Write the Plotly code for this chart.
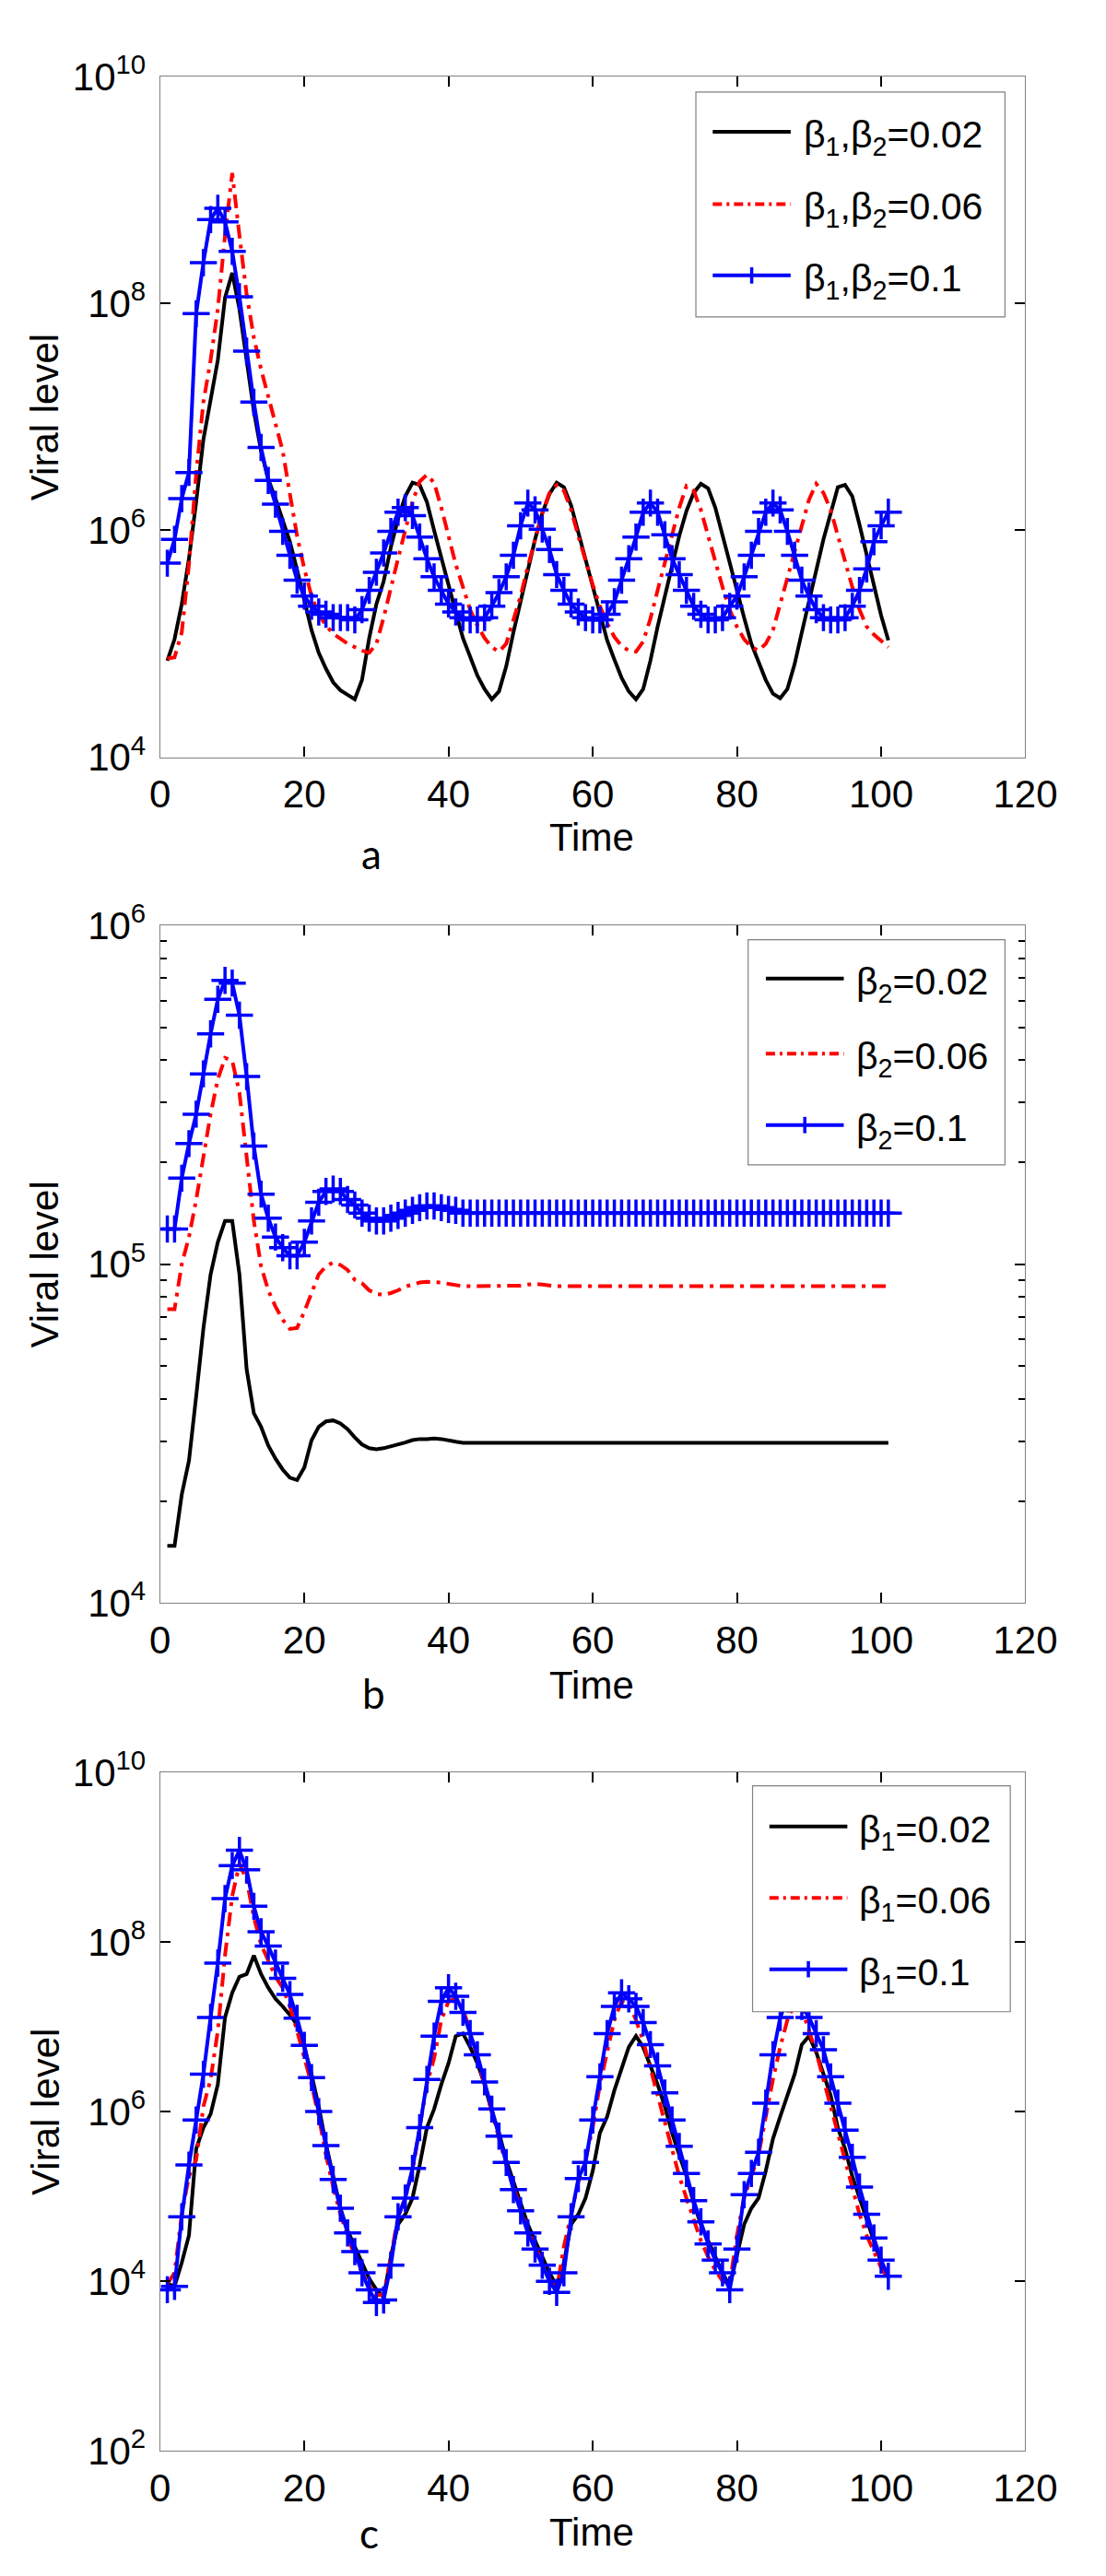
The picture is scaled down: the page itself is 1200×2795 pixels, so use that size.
import plotly.graph_objects as go

W, H = 1200, 2795

# ---------------- data (log10 of viral level) ----------------
t = list(range(1, 102))

# panel a : beta1, beta2 = 0.02 / 0.06 / 0.1
a_black_log10 = [4.85, 5.04, 5.35, 5.75, 6.25, 6.8, 7.15, 7.5, 8.05, 8.27,
                 7.95, 7.5, 7.05, 6.7, 6.45, 6.28, 6.1, 5.9, 5.65, 5.4,
                 5.12, 4.92, 4.78, 4.66, 4.59, 4.55, 4.51, 4.68, 5.05, 5.35,
                 5.55, 5.85, 6.1, 6.3, 6.42, 6.4, 6.25, 6.0, 5.75, 5.5,
                 5.28, 5.05, 4.88, 4.72, 4.6, 4.51, 4.58, 4.8, 5.1, 5.38,
                 5.65, 5.92, 6.15, 6.32, 6.42, 6.38, 6.22, 5.98, 5.72, 5.48,
                 5.25, 5.03, 4.86, 4.7, 4.58, 4.51, 4.6, 4.85, 5.15, 5.42,
                 5.7, 5.95, 6.17, 6.33, 6.41, 6.37, 6.2, 5.95, 5.7, 5.46,
                 5.23, 5.0, 4.83, 4.68, 4.56, 4.52, 4.6, 4.82, 5.1, 5.38,
                 5.65, 5.92, 6.15, 6.38, 6.4, 6.3, 6.05, 5.78, 5.5, 5.25,
                 5.03]
a_red_log10 = [4.87, 4.88, 5.1, 5.7, 6.5, 7.13, 7.5, 7.95, 8.6, 9.15,
               8.6, 8.08, 7.7, 7.42, 7.18, 6.95, 6.7, 6.32, 5.95, 5.66,
               5.42, 5.26, 5.16, 5.09, 5.04, 5.0, 4.97, 4.94, 4.92, 5.0,
               5.23, 5.5, 5.75, 6.0, 6.25, 6.43, 6.49, 6.42, 6.2, 5.95,
               5.7, 5.5, 5.3, 5.16, 5.05, 4.97, 4.93, 5.0, 5.2, 5.42,
               5.68, 5.92, 6.15, 6.33, 6.4, 6.35, 6.18, 5.95, 5.72, 5.52,
               5.33, 5.18, 5.06, 4.98, 4.94, 4.93, 5.02, 5.22, 5.47, 5.72,
               5.95, 6.2, 6.39, 6.35, 6.18, 5.95, 5.72, 5.5, 5.3, 5.15,
               5.04, 4.97, 4.94, 5.0, 5.12, 5.35, 5.55, 5.8, 6.04, 6.27,
               6.41, 6.33, 6.18, 5.95, 5.72, 5.5, 5.3, 5.15, 5.08, 5.02,
               4.97]
a_blue_log10 = [5.71, 5.92, 6.28, 6.51, 7.91, 8.36, 8.74, 8.84, 8.72, 8.46,
                8.06, 7.58, 7.13, 6.73, 6.44, 6.23, 5.99, 5.78, 5.56, 5.42,
                5.33, 5.28, 5.26, 5.23, 5.23, 5.23, 5.21, 5.30, 5.47, 5.63,
                5.80, 5.99, 6.16, 6.2, 6.13, 5.94, 5.75, 5.59, 5.47, 5.35,
                5.28, 5.23, 5.21, 5.21, 5.23, 5.33, 5.45, 5.59, 5.78, 6.04,
                6.24, 6.18, 6.01, 5.83, 5.61, 5.47, 5.35, 5.28, 5.23, 5.21,
                5.21, 5.26, 5.37, 5.56, 5.75, 5.94, 6.16, 6.24, 6.16, 5.96,
                5.75, 5.61, 5.47, 5.33, 5.26, 5.21, 5.21, 5.23, 5.33, 5.42,
                5.59, 5.78, 5.99, 6.16, 6.24, 6.18, 5.99, 5.78, 5.56, 5.42,
                5.30, 5.23, 5.21, 5.21, 5.23, 5.33, 5.47, 5.66, 5.90, 6.04,
                6.16]

# panel b : beta2 = 0.02 / 0.06 / 0.1
b_black_log10 = [4.169, 4.169, 4.32, 4.42, 4.61, 4.81, 4.97, 5.065, 5.128, 5.128,
                 4.97, 4.69, 4.56, 4.52, 4.465, 4.426, 4.394, 4.37, 4.363, 4.40,
                 4.48, 4.52, 4.536, 4.539, 4.53, 4.513, 4.489, 4.468, 4.457, 4.454,
                 4.457, 4.462, 4.468, 4.474, 4.481, 4.484, 4.484, 4.486, 4.484, 4.479,
                 4.476, 4.473, 4.473, 4.473, 4.473, 4.473, 4.473, 4.473, 4.473, 4.473,
                 4.473, 4.473, 4.473, 4.473, 4.473, 4.473, 4.473, 4.473, 4.473, 4.473,
                 4.473, 4.473, 4.473, 4.473, 4.473, 4.473, 4.473, 4.473, 4.473, 4.473,
                 4.473, 4.473, 4.473, 4.473, 4.473, 4.473, 4.473, 4.473, 4.473, 4.473,
                 4.473, 4.473, 4.473, 4.473, 4.473, 4.473, 4.473, 4.473, 4.473, 4.473,
                 4.473, 4.473, 4.473, 4.473, 4.473, 4.473, 4.473, 4.473, 4.473, 4.473,
                 4.473]
b_red_log10 = [4.867, 4.867, 5.0, 5.08, 5.19, 5.317, 5.443, 5.546, 5.609, 5.601,
               5.506, 5.317, 5.128, 4.994, 4.923, 4.875, 4.836, 4.809, 4.812, 4.86,
               4.915, 4.97, 4.994, 5.005, 4.998, 4.983, 4.954, 4.944, 4.923, 4.912,
               4.91, 4.915, 4.923, 4.934, 4.94, 4.946, 4.948, 4.948, 4.946, 4.942,
               4.938, 4.935, 4.935, 4.935, 4.935, 4.935, 4.935, 4.935, 4.935, 4.937,
               4.94, 4.942, 4.94, 4.937, 4.935, 4.935, 4.935, 4.935, 4.935, 4.935,
               4.935, 4.935, 4.935, 4.935, 4.935, 4.935, 4.935, 4.935, 4.935, 4.935,
               4.935, 4.935, 4.935, 4.935, 4.935, 4.935, 4.935, 4.935, 4.935, 4.935,
               4.935, 4.935, 4.935, 4.935, 4.935, 4.935, 4.935, 4.935, 4.935, 4.935,
               4.935, 4.935, 4.935, 4.935, 4.935, 4.935, 4.935, 4.935, 4.935, 4.935,
               4.935]
b_blue_log10 = [5.104, 5.104, 5.254, 5.356, 5.443, 5.562, 5.68, 5.782, 5.838, 5.83,
                5.735, 5.554, 5.349, 5.207, 5.136, 5.08, 5.049, 5.025, 5.025, 5.065,
                5.128, 5.183, 5.215, 5.222, 5.215, 5.191, 5.175, 5.151, 5.136, 5.128,
                5.128, 5.136, 5.144, 5.151, 5.159, 5.167, 5.172, 5.172, 5.167, 5.162,
                5.159, 5.151, 5.151, 5.151, 5.151, 5.151, 5.151, 5.151, 5.151, 5.151,
                5.151, 5.151, 5.151, 5.151, 5.151, 5.151, 5.151, 5.151, 5.151, 5.151,
                5.151, 5.151, 5.151, 5.151, 5.151, 5.151, 5.151, 5.151, 5.151, 5.151,
                5.151, 5.151, 5.151, 5.151, 5.151, 5.151, 5.151, 5.151, 5.151, 5.151,
                5.151, 5.151, 5.151, 5.151, 5.151, 5.151, 5.151, 5.151, 5.151, 5.151,
                5.151, 5.151, 5.151, 5.151, 5.151, 5.151, 5.151, 5.151, 5.151, 5.151,
                5.151]

# panel c : beta1 = 0.02 / 0.06 / 0.1
c_black_log10 = [3.97, 3.94, 4.22, 4.54, 5.56, 5.81, 5.97, 6.32, 7.11, 7.4,
                 7.59, 7.62, 7.84, 7.62, 7.46, 7.33, 7.24, 7.14, 7.02, 6.76,
                 6.44, 6.06, 5.62, 5.24, 4.86, 4.6, 4.41, 4.22, 4.03, 3.9,
                 3.81, 4.29, 4.67, 4.79, 4.98, 5.37, 5.81, 6.03, 6.32, 6.57,
                 6.89, 6.92, 6.76, 6.57, 6.32, 6.0, 5.75, 5.43, 5.17, 4.92,
                 4.67, 4.48, 4.29, 4.1, 3.94, 4.22, 4.67, 4.79, 4.98, 5.3,
                 5.75, 5.94, 6.25, 6.51, 6.76, 6.89, 6.76, 6.54, 6.32, 6.06,
                 5.75, 5.49, 5.24, 4.92, 4.67, 4.48, 4.29, 4.1, 3.94, 4.29,
                 4.67, 4.86, 4.98, 5.3, 5.68, 5.94, 6.19, 6.44, 6.79, 6.89,
                 6.7, 6.44, 6.19, 5.81, 5.56, 5.24, 4.98, 4.73, 4.48, 4.22,
                 4.06]
c_red_log10 = [3.97, 4.1, 4.79, 5.24, 5.43, 6.06, 6.38, 6.95, 7.84, 8.54,
               8.92, 8.73, 8.29, 7.97, 7.78, 7.59, 7.46, 7.24, 6.95, 6.63,
               6.32, 5.94, 5.49, 5.11, 4.79, 4.54, 4.29, 4.1, 3.94, 3.84,
               3.84, 4.29, 4.76, 4.98, 5.3, 5.81, 6.32, 6.63, 7.08, 7.3,
               7.33, 7.21, 6.95, 6.63, 6.32, 6.0, 5.68, 5.37, 5.11, 4.86,
               4.6, 4.41, 4.22, 4.03, 3.9, 4.41, 4.79, 5.17, 5.43, 5.81,
               6.32, 6.7, 7.08, 7.3, 7.27, 7.08, 6.83, 6.51, 6.19, 5.87,
               5.56, 5.24, 4.98, 4.73, 4.48, 4.29, 4.13, 4.0, 3.97, 4.54,
               4.98, 5.24, 5.49, 5.94, 6.38, 6.76, 7.08, 7.27, 7.21, 6.95,
               6.7, 6.38, 6.06, 5.75, 5.43, 5.11, 4.79, 4.54, 4.35, 4.16,
               4.03]
c_blue_log10 = [3.9, 3.94, 4.76, 5.37, 5.9, 6.44, 7.11, 7.75, 8.51, 8.9,
                9.08, 8.85, 8.42, 8.12, 7.95, 7.75, 7.57, 7.38, 7.1, 6.78,
                6.4, 6.0, 5.6, 5.2, 4.86, 4.57, 4.35, 4.1, 3.9, 3.75,
                3.78, 4.19, 4.76, 4.98, 5.33, 5.81, 6.38, 6.89, 7.3, 7.46,
                7.36, 7.17, 6.92, 6.67, 6.35, 6.03, 5.71, 5.4, 5.08, 4.83,
                4.57, 4.38, 4.19, 4.0, 3.87, 4.1, 4.76, 5.21, 5.4, 5.9,
                6.41, 6.92, 7.24, 7.4, 7.33, 7.24, 7.05, 6.79, 6.54, 6.22,
                5.9, 5.59, 5.27, 4.95, 4.7, 4.44, 4.25, 4.1, 3.9, 4.38,
                5.02, 5.27, 5.52, 6.1, 6.67, 7.11, 7.33, 7.37, 7.24, 7.11,
                6.92, 6.73, 6.41, 6.1, 5.78, 5.46, 5.11, 4.79, 4.51, 4.25,
                4.06]

a_names = ["β<sub>1</sub>,β<sub>2</sub>=0.02", "β<sub>1</sub>,β<sub>2</sub>=0.06", "β<sub>1</sub>,β<sub>2</sub>=0.1"]
b_names = ["β<sub>2</sub>=0.02", "β<sub>2</sub>=0.06", "β<sub>2</sub>=0.1"]
c_names = ["β<sub>1</sub>=0.02", "β<sub>1</sub>=0.06", "β<sub>1</sub>=0.1"]
panel_letters = ["a", "b", "c"]

x_ticks = [0, 20, 40, 60, 80, 100, 120]
a_ytick_exp = [4, 6, 8, 10]
b_ytick_exp = [4, 5, 6]
c_ytick_exp = [2, 4, 6, 8, 10]
b_minor_ticks = [2e4, 3e4, 4e4, 5e4, 6e4, 7e4, 8e4, 9e4, 2e5, 3e5, 4e5, 5e5, 6e5, 7e5, 8e5, 9e5]

# ---------------- layout helpers (screen pixel -> paper) ----------------
# the page body keeps the browser's default 8px margin, so the figure starts at (8, 8)
OFF = 8

def fx(x):
    return (x - OFF) / W

def fy(y):
    return 1 - (y - OFF) / H

FONT = "Liberation Sans, Arial, Helvetica, sans-serif"
COLORS = ["#000000", "#ff0000", "#0000ff"]
LINE_W = 4
RED_DASH = "15px,7px,4px,7px"

panels = [
    dict(top=54, bottom=807, yr=(4, 10), yt=a_ytick_exp, data=[a_black_log10, a_red_log10, a_blue_log10],
         names=a_names, time_y=896, let_xy=(407, 914),
         leg=dict(box=(773, 71, 1122, 320), rows=[115, 195, 274], lx=(792, 880), tx=893)),
    dict(top=993, bottom=1743, yr=(4, 6), yt=b_ytick_exp, data=[b_black_log10, b_red_log10, b_blue_log10],
         names=b_names, time_y=1834, let_xy=(409, 1842),
         leg=dict(box=(832, 1009, 1122, 1258), rows=[1052, 1135, 1214], lx=(852, 940), tx=952)),
    dict(top=1930, bottom=2681, yr=(2, 10), yt=c_ytick_exp, data=[c_black_log10, c_red_log10, c_blue_log10],
         names=c_names, time_y=2771, let_xy=(404, 2771),
         leg=dict(box=(837, 1945, 1128, 2195), rows=[1990, 2069, 2148], lx=(856, 944), tx=955)),
]

X0, X1 = 168, 1145

fig = go.Figure()
shapes = []
annotations = []
layout_axes = {}

for i, p in enumerate(panels):
    k = "" if i == 0 else str(i + 1)
    xa, ya = "x" + k, "y" + k
    for j, arr in enumerate(p["data"]):
        vals = [10 ** v for v in arr]
        if j == 2:
            fig.add_trace(go.Scatter(
                x=t, y=vals, xaxis=xa, yaxis=ya, mode="lines+markers",
                line=dict(color=COLORS[j], width=LINE_W),
                marker=dict(symbol="cross-thin", size=21, line=dict(width=3.5, color=COLORS[j])),
                name=p["names"][j], showlegend=False))
        else:
            fig.add_trace(go.Scatter(
                x=t, y=vals, xaxis=xa, yaxis=ya, mode="lines",
                line=dict(color=COLORS[j], width=LINE_W, dash=(RED_DASH if j == 1 else "solid")),
                name=p["names"][j], showlegend=False))

    common = dict(showline=True, linecolor="#808080", linewidth=1.2, mirror="allticks",
                  ticks="inside", ticklen=11, tickwidth=2, tickcolor="#000000",
                  showgrid=False, zeroline=False,
                  tickfont=dict(family=FONT, size=42, color="#000000"))
    layout_axes["xaxis" + k] = dict(common, domain=[fx(X0), fx(X1)], anchor=ya, range=[0, 120],
                                    tickvals=x_ticks, ticktext=[str(v) for v in x_ticks],
                                    ticklabelstandoff=3)
    yax = dict(common, domain=[fy(p["bottom"]), fy(p["top"])], anchor=xa, type="log",
               range=[p["yr"][0] - 0.0005, p["yr"][1] + 0.0005],
               tickvals=[10 ** e for e in p["yt"]],
               ticktext=["10<sup>%d</sup>" % e for e in p["yt"]],
               ticklabelstandoff=6)
    if i == 1:
        yax["minor"] = dict(tickvals=b_minor_ticks, ticks="inside", ticklen=7, tickwidth=2,
                            tickcolor="#000000", showgrid=False)
    layout_axes["yaxis" + k] = yax

    # axis titles and panel letter
    annotations.append(dict(text="Viral level", xref="paper", yref="paper", x=fx(38),
                            y=fy((p["top"] + p["bottom"]) / 2), textangle=-90, showarrow=False,
                            xanchor="center", yanchor="middle",
                            font=dict(family=FONT, size=42, color="#000000")))
    annotations.append(dict(text="Time", xref="paper", yref="paper", x=fx(655), y=fy(p["time_y"]),
                            showarrow=False, xanchor="center", yanchor="middle",
                            font=dict(family=FONT, size=42, color="#000000")))
    annotations.append(dict(text=panel_letters[i], xref="paper", yref="paper", x=fx(p["let_xy"][0]),
                            y=fy(p["let_xy"][1]), showarrow=False, xanchor="center", yanchor="middle",
                            font=dict(family="Lato, Noto Sans, sans-serif", size=44, color="#000000")))

    # legend box
    L = p["leg"]
    bx0, by0, bx1, by1 = L["box"]
    shapes.append(dict(type="rect", xref="paper", yref="paper", x0=fx(bx0), x1=fx(bx1),
                       y0=fy(by1), y1=fy(by0), line=dict(color="#808080", width=1.2),
                       fillcolor="#ffffff", layer="above"))
    for j, ry in enumerate(L["rows"]):
        shapes.append(dict(type="line", xref="paper", yref="paper", x0=fx(L["lx"][0]), x1=fx(L["lx"][1]),
                           y0=fy(ry), y1=fy(ry), layer="above",
                           line=dict(color=COLORS[j], width=LINE_W,
                                     dash=("10px,5px,3px,5px" if j == 1 else "solid"))))
        if j == 2:
            mx = (L["lx"][0] + L["lx"][1]) / 2
            shapes.append(dict(type="line", xref="paper", yref="paper", x0=fx(mx), x1=fx(mx),
                               y0=fy(ry - 9), y1=fy(ry + 9), layer="above",
                               line=dict(color=COLORS[j], width=3.5)))
        annotations.append(dict(text=p["names"][j], xref="paper", yref="paper", x=fx(L["tx"]),
                                y=fy(ry + 6), showarrow=False, xanchor="left", yanchor="middle",
                                font=dict(family=FONT, size=41, color="#000000")))

fig.update_layout(
    width=W, height=H,
    autosize=False,
    margin=dict(l=0, r=0, t=0, b=0),
    paper_bgcolor="#ffffff", plot_bgcolor="#ffffff",
    showlegend=False,
    shapes=shapes, annotations=annotations,
    **layout_axes,
)

fig.write_html("out.html", config={"responsive": False})
